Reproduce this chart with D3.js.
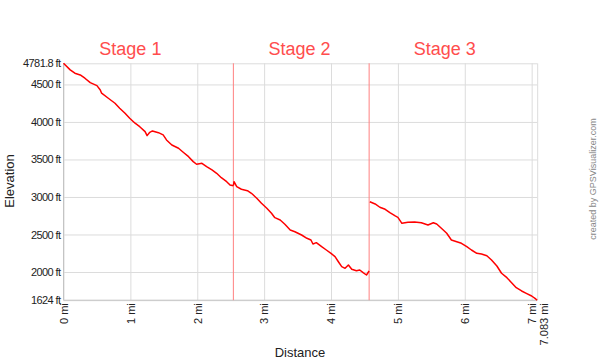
<!DOCTYPE html>
<html>
<head>
<meta charset="utf-8">
<script src="https://cdn.jsdelivr.net/npm/d3@7"></script>
<style>
  body { margin: 0; background: #fff; }
  text { font-family: "Liberation Sans", Arial, sans-serif; }
</style>
</head>
<body>
<script>
// elevation profile, [miles, feet]
var stage1 = [
  [0, 4782], [0.1, 4694], [0.17, 4650], [0.25, 4627], [0.32, 4583], [0.4, 4524],
  [0.5, 4484], [0.55, 4427], [0.57, 4383], [0.67, 4316], [0.77, 4249], [0.84, 4183],
  [0.92, 4116], [0.99, 4049], [1.07, 3983], [1.14, 3937], [1.22, 3871], [1.25, 3818],
  [1.29, 3862], [1.33, 3880], [1.42, 3857], [1.49, 3827], [1.54, 3760], [1.62, 3693],
  [1.72, 3649], [1.79, 3596], [1.87, 3537], [1.94, 3471], [1.99, 3436], [2.07, 3449],
  [2.14, 3404], [2.22, 3360], [2.29, 3316], [2.36, 3257], [2.44, 3204], [2.49, 3160],
  [2.54, 3151]
];
var stage2 = [
  [2.54, 3151], [2.55, 3204], [2.59, 3137], [2.66, 3103], [2.75, 3084], [2.81, 3049],
  [2.89, 2983], [2.96, 2916], [3.04, 2849], [3.11, 2783], [3.16, 2724], [3.24, 2693],
  [3.31, 2636], [3.39, 2560], [3.46, 2537], [3.56, 2493], [3.64, 2449], [3.70, 2427],
  [3.73, 2373], [3.78, 2391], [3.86, 2337], [3.93, 2293], [4.00, 2249], [4.06, 2204],
  [4.11, 2137], [4.16, 2071], [4.21, 2049], [4.26, 2093], [4.31, 2036], [4.38, 2017],
  [4.43, 2027], [4.48, 1991], [4.53, 1960], [4.57, 2013]
];
var stage3 = [
  [4.58, 2937], [4.66, 2907], [4.73, 2863], [4.81, 2836], [4.88, 2791], [4.96, 2747],
  [5.00, 2729], [5.06, 2649], [5.15, 2663], [5.25, 2667], [5.35, 2657], [5.45, 2627],
  [5.53, 2657], [5.58, 2640], [5.65, 2583], [5.73, 2516], [5.80, 2427], [5.88, 2404],
  [5.95, 2383], [6.03, 2337], [6.10, 2293], [6.18, 2249], [6.25, 2240], [6.33, 2217],
  [6.40, 2160], [6.48, 2080], [6.55, 1983], [6.63, 1924], [6.70, 1857], [6.77, 1791],
  [6.85, 1747], [6.92, 1716], [7.00, 1680], [7.05, 1649], [7.083, 1624]
];

var stageNames = ["Stage 1", "Stage 2", "Stage 3"];
var stageLabelAt = [1.0, 3.53, 5.7];   // miles
var stageBreaks = [2.54, 4.57];       // miles

var yTicks = [4781.8, 4500, 4000, 3500, 3000, 2500, 2000, 1624];
var xTicks = [0, 1, 2, 3, 4, 5, 6, 7, 7.083];

var width = 600, height = 363;
var mLeft = 63.5, mRight = 537.2, mTop = 63.3, mBottom = 300.2;

var svg = d3.select("body").append("svg")
    .attr("width", width)
    .attr("height", height);

var x = d3.scaleLinear().domain([0, 7.083]).range([mLeft, mRight]);
var y = d3.scaleLinear().domain([1624, 4781.8]).range([mBottom, mTop]);

// grid
svg.append("g")
    .attr("transform", "translate(0," + mBottom + ")")
    .call(d3.axisBottom(x).tickValues(xTicks).tickSize(-(mBottom - mTop)).tickFormat(""))
    .call(g => g.select(".domain").remove())
    .call(g => g.selectAll("line").attr("stroke", "#dcdcdc"));

svg.append("g")
    .attr("transform", "translate(" + mLeft + ",0)")
    .call(d3.axisLeft(y).tickValues(yTicks).tickSize(-(mRight - mLeft)).tickFormat(""))
    .call(g => g.select(".domain").remove())
    .call(g => g.selectAll("line").attr("stroke", "#dcdcdc"));

// axis lines
svg.append("line").attr("x1", mLeft).attr("x2", mLeft).attr("y1", mTop).attr("y2", mBottom)
    .attr("stroke", "#c4c4c4");
svg.append("line").attr("x1", mLeft).attr("x2", mRight).attr("y1", mBottom).attr("y2", mBottom)
    .attr("stroke", "#c4c4c4");

// y labels
svg.append("g")
    .attr("transform", "translate(" + (mLeft - 3) + ",0)")
    .call(d3.axisLeft(y).tickValues(yTicks).tickSize(0).tickPadding(0)
        .tickFormat(d => d + " ft"))
    .call(g => g.select(".domain").remove())
    .call(g => g.selectAll("text")
        .attr("font-family", "'Liberation Sans', Arial, sans-serif")
        .attr("font-size", 11)
        .attr("letter-spacing", "-0.6px")
        .attr("fill", "#222"));

// x labels
svg.append("g")
    .attr("transform", "translate(0," + (mBottom + 3) + ")")
    .call(d3.axisBottom(x).tickValues(xTicks).tickSize(0).tickPadding(0)
        .tickFormat(d => d + " mi"))
    .call(g => g.select(".domain").remove())
    .call(g => g.selectAll("text")
        .attr("font-family", "'Liberation Sans', Arial, sans-serif")
        .attr("font-size", 11)
        .attr("fill", "#222")
        .attr("transform", "rotate(-90)")
        .attr("text-anchor", "end")
        .attr("x", 0)
        .attr("y", 0)
        .attr("dy", (d, i) => i === xTicks.length - 1 ? "0.95em" : "0.35em"));

// stage dividers
svg.selectAll(".brk")
    .data(stageBreaks)
  .enter().append("line")
    .attr("x1", d => x(d)).attr("x2", d => x(d))
    .attr("y1", mTop).attr("y2", mBottom)
    .attr("stroke", "#ff8080")
    .attr("stroke-width", 1);

// profile
var line = d3.line().x(d => x(d[0])).y(d => y(d[1]));
svg.selectAll(".seg")
    .data([stage1, stage2, stage3])
  .enter().append("path")
    .attr("d", line)
    .attr("fill", "none")
    .attr("stroke", "#f00")
    .attr("stroke-width", 1.5)
    .attr("stroke-linejoin", "round");

// stage titles
svg.selectAll(".stage")
    .data(stageNames)
  .enter().append("text")
    .attr("x", (d, i) => x(stageLabelAt[i]))
    .attr("y", 55)
    .attr("text-anchor", "middle")
    .attr("font-size", 18)
    .attr("fill", "#ff4d4d")
    .text(d => d);

// axis titles
svg.append("text")
    .attr("x", 300).attr("y", 357)
    .attr("text-anchor", "middle")
    .attr("font-size", 13)
    .attr("fill", "#222")
    .text("Distance");

svg.append("text")
    .attr("transform", "translate(14,181) rotate(-90)")
    .attr("text-anchor", "middle")
    .attr("font-size", 13)
    .attr("fill", "#222")
    .text("Elevation");

svg.append("text")
    .attr("transform", "translate(596,179) rotate(-90)")
    .attr("text-anchor", "middle")
    .attr("font-size", 9)
    .attr("fill", "#888")
    .text("created by GPSVisualizer.com");
</script>
</body>
</html>
